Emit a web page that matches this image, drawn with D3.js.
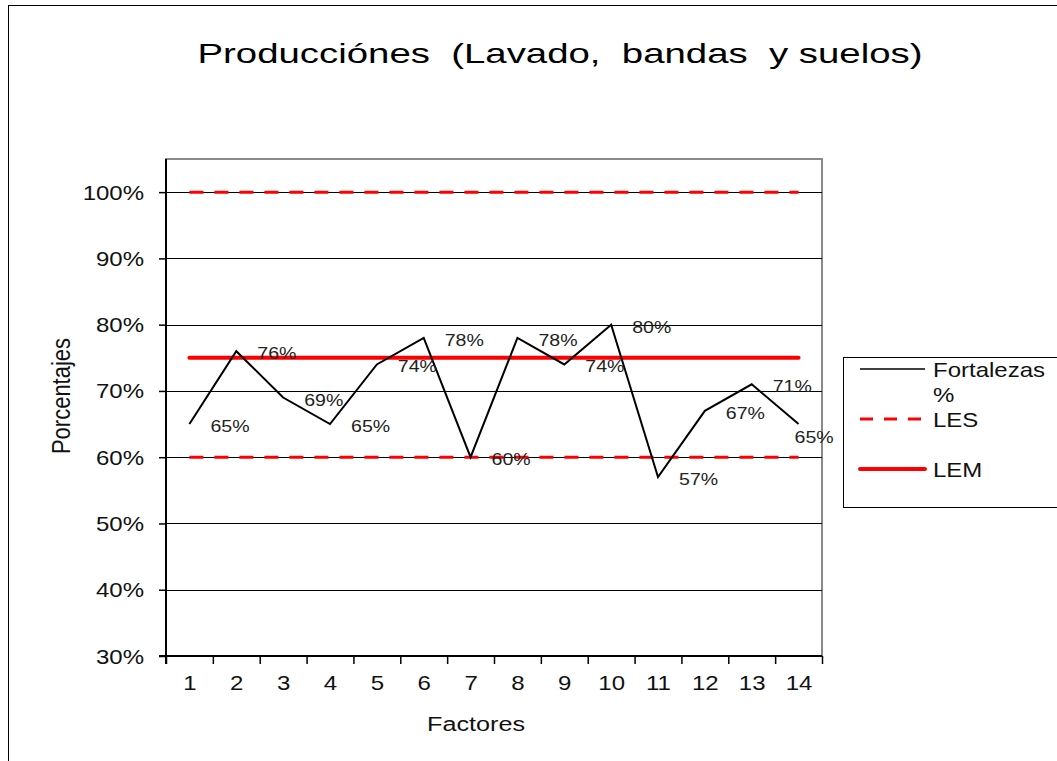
<!DOCTYPE html>
<html>
<head>
<meta charset="utf-8">
<script src="https://cdn.jsdelivr.net/npm/d3@7/dist/d3.min.js"></script>
<style>
  html, body { margin: 0; padding: 0; background: #fff; }
  svg { display: block; }
  text { font-family: "Liberation Sans", Arial, sans-serif; }
</style>
</head>
<body>
<svg id="chart" width="1057" height="761"></svg>
<script>
// Factor numbers along the horizontal axis
const factores = [1, 2, 3, 4, 5, 6, 7, 8, 9, 10, 11, 12, 13, 14];
// Fortalezas % per factor
const fortalezas = [0.65, 0.76, 0.69, 0.65, 0.74, 0.78, 0.60, 0.78, 0.74, 0.80, 0.57, 0.67, 0.71, 0.65];
// Control limits
const lesSuperior = factores.map(() => 1.00);
const lesInferior = factores.map(() => 0.60);
const lem = factores.map(() => 0.75);
// Axis ticks
const yTicks = [0.3, 0.4, 0.5, 0.6, 0.7, 0.8, 0.9, 1.0];
const legendItems = ["Fortalezas|%", "LES", "LEM"];

const svg = d3.select("#chart");
const SX = 1.2; // horizontal glyph stretch used throughout

const plot = { left: 166, right: 822, top: 159, bottom: 656 };

const x = d3.scaleLinear().domain([0.5, 14.5]).range([plot.left, plot.right]);
const y = d3.scaleLinear().domain([0.3, 1.05]).range([plot.bottom, plot.top]);

// outer chart frame
svg.append("rect")
  .attr("x", 8.5).attr("y", 5.5).attr("width", 1100).attr("height", 800)
  .attr("fill", "none").attr("stroke", "#000").attr("stroke-width", 1);

// title
svg.append("text")
  .attr("x", 560).attr("y", 63)
  .attr("text-anchor", "middle")
  .style("white-space", "pre")
  .attr("font-size", 28)
  .attr("textLength", 725).attr("lengthAdjust", "spacingAndGlyphs")
  .attr("fill", "#000")
  .text("Producciónes  (Lavado,  bandas  y suelos)");

// plot frame (top & right in grey)
svg.append("rect")
  .attr("x", plot.left).attr("y", plot.top)
  .attr("width", plot.right - plot.left).attr("height", plot.bottom - plot.top)
  .attr("fill", "#fff").attr("stroke", "#8a8a8a").attr("stroke-width", 2);

// horizontal gridlines
svg.append("g")
  .selectAll("line")
  .data(yTicks.filter(d => d > 0.3))
  .join("line")
  .attr("x1", plot.left).attr("x2", plot.right)
  .attr("y1", d => Math.round(y(d)) + 0.5).attr("y2", d => Math.round(y(d)) + 0.5)
  .attr("stroke", "#000").attr("stroke-width", 1);

// y axis
const yAxis = svg.append("g")
  .attr("transform", `translate(${plot.left},0)`)
  .call(d3.axisLeft(y).tickValues(yTicks).tickFormat(d3.format(".0%")).tickSize(7).tickSizeOuter(0));
yAxis.select(".domain").remove();
yAxis.append("line")
  .attr("x1", 0).attr("x2", 0).attr("y1", plot.top).attr("y2", plot.bottom + 8)
  .attr("stroke", "#000").attr("stroke-width", 2);
yAxis.selectAll(".tick line").attr("stroke", "#000").attr("stroke-width", 1.5);
yAxis.selectAll(".tick text")
  .attr("x", null).attr("dy", null)
  .attr("transform", `translate(-22,7) scale(${SX},1)`)
  .attr("font-size", 20).attr("fill", "#111")
  .attr("font-family", "Liberation Sans, Arial, sans-serif");

// x axis: boundary ticks
const xAxis = svg.append("g")
  .attr("transform", `translate(0,${plot.bottom})`)
  .call(d3.axisBottom(x).tickValues(d3.range(0.5, 15, 1)).tickFormat("").tickSize(8).tickSizeOuter(0));
xAxis.select(".domain").remove();
xAxis.append("line")
  .attr("x1", plot.left - 7).attr("x2", plot.right).attr("y1", 0).attr("y2", 0)
  .attr("stroke", "#000").attr("stroke-width", 2);
xAxis.selectAll(".tick line").attr("stroke", "#000").attr("stroke-width", 1.5);

// x axis: category labels
const xLabels = svg.append("g")
  .attr("transform", `translate(0,${plot.bottom})`)
  .call(d3.axisBottom(x).tickValues(factores).tickFormat(d3.format("d")).tickSize(0));
xLabels.select(".domain").remove();
xLabels.selectAll(".tick text")
  .attr("y", null).attr("dy", null)
  .attr("transform", `translate(0,34) scale(${SX},1)`)
  .attr("font-size", 20).attr("fill", "#111")
  .attr("font-family", "Liberation Sans, Arial, sans-serif");

// axis titles
svg.append("text")
  .attr("transform", `translate(476,731) scale(${SX},1)`)
  .attr("text-anchor", "middle")
  .attr("font-size", 21).attr("fill", "#111")
  .text("Factores");
svg.append("text")
  .attr("transform", `translate(70,396) scale(${SX},1) rotate(-90)`)
  .attr("text-anchor", "middle")
  .attr("font-size", 22).attr("fill", "#111")
  .text("Porcentajes");

const line = d3.line().x((d, i) => x(factores[i])).y(d => y(d));

// limit lines
[lesSuperior, lesInferior].forEach(s => {
  svg.append("path")
    .attr("d", line(s))
    .attr("fill", "none").attr("stroke", "#ff0000")
    .attr("stroke-width", 3).attr("stroke-dasharray", "14,11");
});
svg.append("path")
  .attr("d", line(lem))
  .attr("fill", "none").attr("stroke", "#ff0000")
  .attr("stroke-width", 4).attr("stroke-linecap", "round");

// fortalezas series
svg.append("path")
  .attr("d", line(fortalezas))
  .attr("fill", "none").attr("stroke", "#000").attr("stroke-width", 2)
  .attr("stroke-linejoin", "miter");

// data labels
const fmt = d3.format(".0%");
svg.append("g")
  .selectAll("text")
  .data(fortalezas)
  .join("text")
  .attr("transform", (d, i) => {
    const px = x(factores[i]), py = y(d);
    const overflow = px + 21 + 40 > plot.right + 10;
    const tx = overflow ? px - 4 : px + 21;
    const ty = overflow ? py + 19 : py + 8;
    return `translate(${tx},${ty}) scale(${SX},1)`;
  })
  .attr("font-size", 16.3).attr("fill", "#222")
  .text(d => fmt(d));

// legend
const lg = svg.append("g");
lg.append("rect")
  .attr("x", 843.5).attr("y", 357.5).attr("width", 260).attr("height", 150)
  .attr("fill", "#fff").attr("stroke", "#000").attr("stroke-width", 1);
const legendStyles = [
  { y: 369, color: "#000", width: 1.5, dash: null, textY: [377, 402] },
  { y: 419, color: "#ff0000", width: 3, dash: "13,11", textY: [427] },
  { y: 469, color: "#ff0000", width: 4, dash: null, textY: [477] }
];
legendItems.forEach((name, i) => {
  const st = legendStyles[i];
  lg.append("line")
    .attr("x1", 860).attr("x2", 925).attr("y1", st.y).attr("y2", st.y)
    .attr("stroke", st.color).attr("stroke-width", st.width)
    .attr("stroke-dasharray", st.dash)
    .attr("stroke-linecap", i === 2 ? "round" : "butt");
  name.split("|").forEach((part, k) => {
    lg.append("text")
      .attr("transform", `translate(933,${st.textY[k]}) scale(${SX},1)`)
      .attr("font-size", 20).attr("fill", "#111")
      .text(part);
  });
});
</script>
</body>
</html>
